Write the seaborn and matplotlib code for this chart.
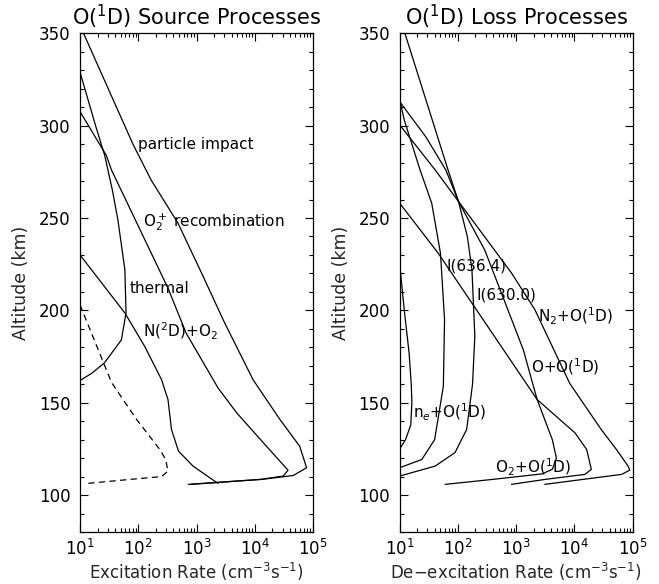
import numpy as np
import pandas as pd
import matplotlib
matplotlib.use('Agg')
import matplotlib.pyplot as plt
from matplotlib.ticker import MultipleLocator, FixedLocator, LogLocator, NullFormatter
import seaborn as sns

sns.set_style('ticks', {
    'axes.edgecolor': '0',
    'xtick.color': 'black',
    'ytick.color': 'black',
    'xtick.direction': 'in',
    'ytick.direction': 'in',
    'text.color': 'black',
    'axes.facecolor': 'white',
    'axes.grid': False,
})
plt.rcParams['font.family'] = ['DejaVu Sans']
plt.rcParams['mathtext.fontset'] = 'dejavusans'

# ---- source processes (excitation rate cm-3 s-1 vs altitude km)
pi_alt = [350, 290, 270.6, 247.3, 220, 193.4, 162.5, 141, 126.5, 114.8, 110.6, 108.5, 105.8]
pi_rate = [11.5, 81, 166, 479, 1230, 3020, 9330, 26900, 58900, 77600, 45700, 13200, 724]

o2p_alt = [307.6, 284, 276, 212, 187.8, 158, 144.5, 126.5, 113.5, 110.3, 108.5, 105.8]
o2p_rate = [10, 28.2, 34.7, 324, 661, 2340, 4900, 15800, 37200, 30900, 12600, 794]

th_alt = [329, 300, 284, 265, 249, 222, 198.6, 184, 171.6, 166, 162]
th_rate = [10, 18.5, 26.5, 36, 44.7, 58.9, 61.7, 51.3, 26.3, 16, 10]

n2d_alt = [230, 198.6, 180.5, 162.5, 151.7, 135.5, 123.8, 115.7, 106.3]
n2d_rate = [10, 58.9, 129, 251, 324, 372, 490, 871, 2340]

dash_alt = [203, 161, 141, 124.7, 119.3, 113, 110, 108.5, 106.2]
dash_rate = [10, 34.7, 93.3, 234, 295, 324, 251, 72.4, 12.3]

# ---- loss processes (de-excitation rate)
n2_alt = [300.4, 276, 259, 220.2, 200.4, 160.4, 135.5, 124.7, 115.7, 113.5, 111.2, 105.8]
n2_rate = [10, 40.7, 102, 832, 2090, 8320, 28800, 52500, 83200, 89100, 64600, 3090]

oo_alt = [350, 276, 259, 232.7, 205.8, 178.8, 151.7, 130, 120, 114, 111.5, 108.5, 105.8]
oo_rate = [12.3, 67.6, 102, 288, 617, 1320, 2290, 4170, 4900, 4170, 2820, 398, 60.3]

i630_alt = [313, 294, 276, 259, 240, 222, 186, 160, 135.5, 123, 115.7, 110.3]
i630_rate = [10, 28, 62, 102, 145, 174, 195, 178, 141, 89.1, 40.7, 10]

i636_alt = [314, 303, 276, 258, 231, 195, 159, 130, 119.3, 114.8]
i636_rate = [10, 12, 22.4, 35.5, 50.1, 58.9, 56.2, 39.8, 24, 10]

o2_alt = [258, 231, 203, 151.7, 133.7, 124.7, 113.9, 111.2, 108.5, 105.8]
o2_rate = [10, 45.7, 182, 2290, 10200, 16200, 19500, 15100, 3160, 832]

ne_alt = [225, 200, 177, 160, 150, 138, 130, 125]
ne_rate = [10, 12, 14.5, 15.8, 16.2, 15.5, 12.6, 10]

xticks = [1e1, 1e2, 1e3, 1e4, 1e5]

fig = plt.figure(figsize=(6.59, 5.84), dpi=100)
ax1 = fig.add_axes([0.1214, 0.089, 0.3536, 0.854])
ax2 = fig.add_axes([0.6065, 0.089, 0.3536, 0.854])


def curve(ax, rate, alt, ls='-'):
    d = pd.DataFrame({'rate': rate, 'alt': alt})
    sns.lineplot(data=d, x='rate', y='alt', sort=False, estimator=None,
                 color='black', lw=0.9, linestyle=ls, ax=ax)


for ax in (ax1, ax2):
    ax.set_xscale('log')

curve(ax1, pi_rate, pi_alt)
curve(ax1, o2p_rate, o2p_alt)
curve(ax1, th_rate, th_alt)
curve(ax1, n2d_rate, n2d_alt)
curve(ax1, dash_rate, dash_alt, ls=(0, (5, 3.5)))

curve(ax2, n2_rate, n2_alt)
curve(ax2, oo_rate, oo_alt)
curve(ax2, i630_rate, i630_alt)
curve(ax2, i636_rate, i636_alt)
curve(ax2, o2_rate, o2_alt)
curve(ax2, ne_rate, ne_alt)

lab = dict(fontsize=11, va='center', ha='left')
ax1.text(99, 290, 'particle impact', **lab)
ax1.text(120, 248, r'O$_2^+$ recombination', **lab)
ax1.text(71, 212, 'thermal', **lab)
ax1.text(120, 188.6, r'N($^2$D)+O$_2$', **lab)

ax2.text(64, 223.8, 'I(636.4)', **lab)
ax2.text(209, 208.5, 'I(630.0)', **lab)
ax2.text(2400, 196.8, r'N$_2$+O($^1$D)', **lab)
ax2.text(1820, 169.7, r'O+O($^1$D)', **lab)
ax2.text(17, 144.5, r'n$_e$+O($^1$D)', **lab)
ax2.text(427, 114.8, r'O$_2$+O($^1$D)', **lab)

ax1.set_title(r'O($^1$D) Source Processes', fontsize=15, pad=6)
ax2.set_title(r'O($^1$D) Loss Processes', fontsize=15, pad=6)
ax1.set_xlabel(r'Excitation Rate (cm$^{-3}$s$^{-1}$)', fontsize=12, labelpad=1)
ax2.set_xlabel(r'De$-$excitation Rate (cm$^{-3}$s$^{-1}$)', fontsize=12, labelpad=1)

for ax in (ax1, ax2):
    ax.set_xlim(10, 1e5)
    ax.set_ylim(80, 350)
    ax.set_ylabel('Altitude (km)', fontsize=12.5, labelpad=6)
    ax.yaxis.set_major_locator(MultipleLocator(50))
    ax.yaxis.set_minor_locator(MultipleLocator(10))
    ax.xaxis.set_major_locator(FixedLocator(xticks))
    ax.xaxis.set_minor_locator(LogLocator(base=10, subs=np.arange(2, 10), numticks=12))
    ax.xaxis.set_minor_formatter(NullFormatter())
    ax.tick_params(which='both', direction='in', top=True, right=True,
                   labelsize=12, width=0.8)
    ax.tick_params(which='major', length=6)
    ax.tick_params(axis='x', which='major', pad=5)
    ax.tick_params(axis='y', which='major', pad=7)
    ax.tick_params(which='minor', length=3)
    for s in ax.spines.values():
        s.set_linewidth(0.9)

fig.savefig('out.png', dpi=100)
